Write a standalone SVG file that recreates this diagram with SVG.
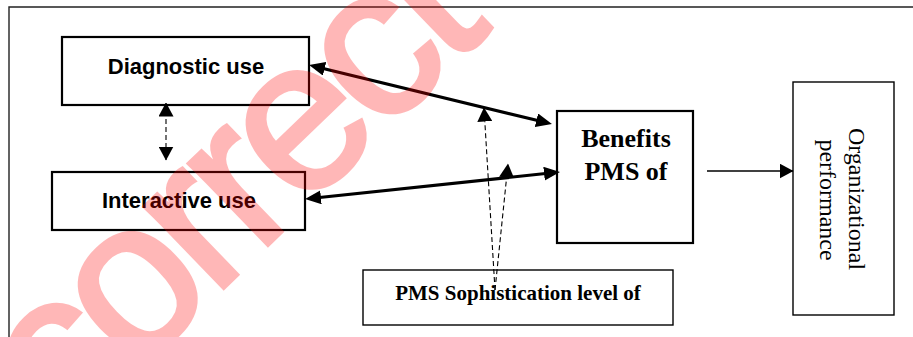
<svg xmlns="http://www.w3.org/2000/svg" width="913" height="337" viewBox="0 0 913 337">
<style>
.box{fill:#fff;stroke:#000;stroke-width:2.2}
.thin{fill:#fff;stroke:#000;stroke-width:1.4}
.lbl{font-family:"Liberation Sans",Arial,sans-serif;font-weight:bold;font-size:22px;text-anchor:middle;fill:#000}
.ser{font-family:"Liberation Serif","Times New Roman",serif;text-anchor:middle;fill:#000}
.thick{stroke:#000;stroke-width:3.2;fill:none}
.dash{stroke:#000;stroke-width:1.1;fill:none;stroke-dasharray:5,3}
.wm{font-family:"Liberation Sans",Arial,sans-serif;font-size:215px;letter-spacing:-10px;fill:#ff0000;stroke:#ff0000;stroke-width:4}
</style>
<defs>
<marker id="hb" markerUnits="userSpaceOnUse" markerWidth="16" markerHeight="14" refX="11" refY="7" orient="auto-start-reverse"><path d="M0,0 L16,7 L0,14 z" fill="#000"/></marker>
<marker id="hs" markerUnits="userSpaceOnUse" markerWidth="14" markerHeight="15" refX="13.5" refY="7.5" orient="auto-start-reverse"><path d="M0,0 L14,7.5 L0,15 z" fill="#000"/></marker>
</defs>
<rect width="913" height="337" fill="#fff"/>
<path d="M9,337 L9,7 L913,7" fill="none" stroke="#222" stroke-width="1.4"/>
<g id="diagnostic">
<rect class="box" x="62" y="37" width="247" height="68"/>
<text class="lbl" x="186" y="74">Diagnostic use</text>
</g>
<g id="interactive">
<rect class="box" x="52" y="172" width="253" height="58"/>
<text class="lbl" x="179" y="208">Interactive use</text>
</g>
<g id="benefits">
<rect class="box" x="557" y="111" width="136" height="132"/>
<text class="ser" font-weight="bold" font-size="26" x="626" y="147">Benefits</text>
<text class="ser" font-weight="bold" font-size="26" x="626" y="180">PMS of</text>
</g>
<g id="sophistication">
<rect class="thin" x="363" y="270" width="310" height="55"/>
<text class="ser" font-weight="bold" font-size="21" x="518" y="300">PMS Sophistication level of</text>
</g>
<g id="organizational">
<rect class="thin" x="793" y="82" width="101" height="233"/>
<text class="ser" font-size="24" transform="translate(849,199) rotate(90)">Organizational</text>
<text class="ser" font-size="24" transform="translate(820,200) rotate(90)">performance</text>
</g>
<g id="connectors">
<line class="thick" x1="313.9" y1="66.2" x2="547.1" y2="122.8" marker-start="url(#hb)" marker-end="url(#hb)"/>
<line class="thick" x1="310" y1="198.5" x2="555" y2="172.5" marker-start="url(#hb)" marker-end="url(#hb)"/>
<line class="dash" x1="166" y1="103" x2="166" y2="160" marker-start="url(#hs)" marker-end="url(#hs)"/>
<line class="dash" x1="495" y1="290" x2="484" y2="108" marker-end="url(#hs)"/>
<line class="dash" x1="495" y1="290" x2="508" y2="164" marker-end="url(#hs)"/>
<line stroke="#000" stroke-width="1.3" x1="707" y1="171" x2="793" y2="171" marker-end="url(#hs)"/>
</g>
<g id="watermark" opacity="0.28">
<text class="wm" transform="translate(64,442) rotate(-44)">correct</text>
</g>
</svg>
